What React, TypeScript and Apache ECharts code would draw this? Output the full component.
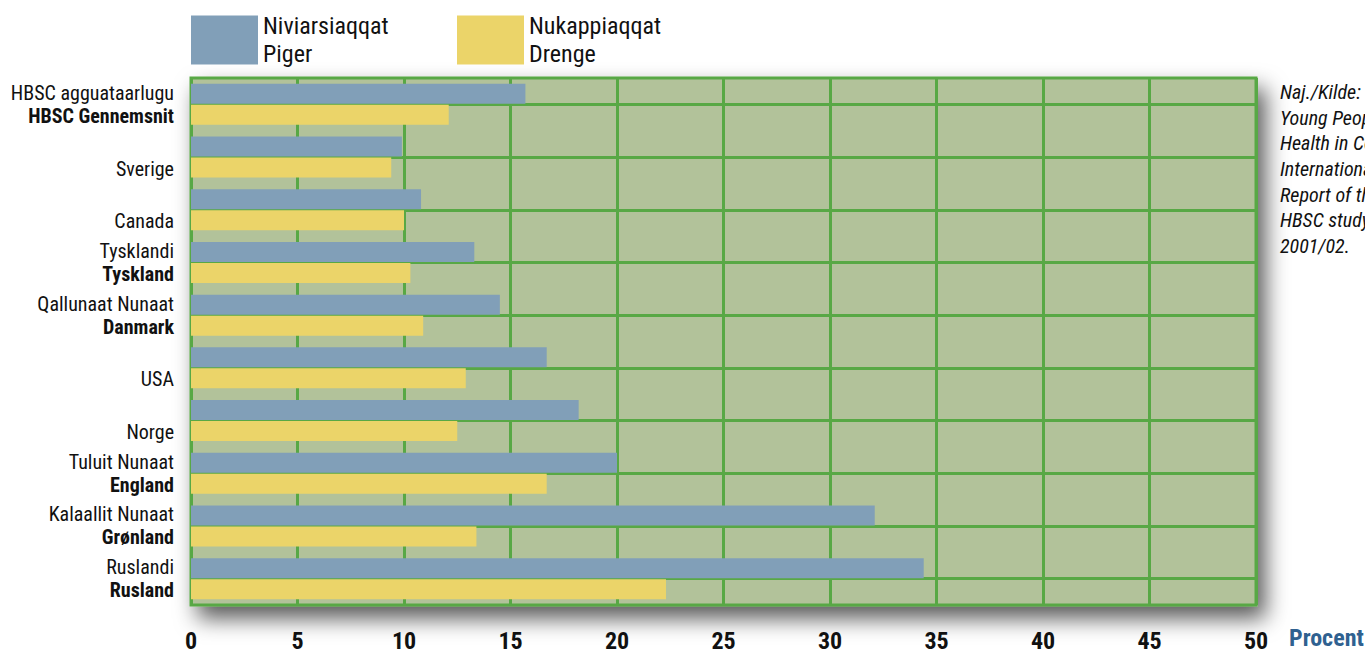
import React, { useEffect, useRef } from "react";
import * as echarts from "echarts";

const categoriesKl = ["HBSC agguataarlugu", "", "", "Tysklandi", "Qallunaat Nunaat", "", "", "Tuluit Nunaat", "Kalaallit Nunaat", "Ruslandi"];
const categoriesDa = ["HBSC Gennemsnit", "Sverige", "Canada", "Tyskland", "Danmark", "USA", "Norge", "England", "Grønland", "Rusland"];
const girls = [15.7, 9.9, 10.8, 13.3, 14.5, 16.7, 18.2, 20.0, 32.1, 34.4];
const boys = [12.1, 9.4, 10.0, 10.3, 10.9, 12.9, 12.5, 16.7, 13.4, 22.3];
const seriesNames = ["Niviarsiaqqat\nPiger", "Nukappiaqqat\nDrenge"];
const sourceLines = ["Naj./Kilde:", "Young People's", "Health in Context", "International", "Report of the", "HBSC study", "2001/02."];
const unitLabel = "Procent";
// 21 slots across the category span so that lines fall on band centres
const halfBandSlots = ["0", "1", "2", "3", "4", "5", "6", "7", "8", "9", "10", "11", "12", "13", "14", "15", "16", "17", "18", "19", "20"];

const FONT = "'Liberation Sans Narrow', 'Roboto Condensed', 'DejaVu Sans Condensed', 'Liberation Sans', sans-serif";
const BLUE = "#819fb8";
const YELLOW = "#ebd469";
const GREEN = "#58a845";

export default function App() {
  const ref = useRef<HTMLDivElement>(null);
  useEffect(() => {
    document.body.style.margin = "0";
    const chart = echarts.init(ref.current!, null, { renderer: "svg" });
    const legendBase = {
      top: 12,
      padding: 0,
      icon: "rect",
      itemWidth: 67,
      itemHeight: 49,
      textStyle: { fontFamily: FONT, fontSize: 24, lineHeight: 28, color: "#111" },
      selectedMode: false,
    };
    chart.setOption({
      animation: false,
      backgroundColor: "#ffffff",
      legend: [
        { ...legendBase, data: [seriesNames[0]], left: 191 },
        { ...legendBase, data: [seriesNames[1]], left: 457 },
      ],
      grid: {
        show: true,
        left: 191,
        right: 109,
        top: 78,
        bottom: 50,
        backgroundColor: "#b2c29a",
        borderColor: GREEN,
        borderWidth: 3,
        shadowColor: "rgba(0,0,0,0.65)",
        shadowBlur: 22,
        shadowOffsetX: 8,
        shadowOffsetY: 12,
      },
      xAxis: {
        type: "value",
        min: 0,
        max: 50,
        interval: 5,
        axisLine: { show: false },
        axisTick: { show: false },
        axisLabel: { fontFamily: FONT, fontSize: 24, fontWeight: "bold", color: "#111", margin: 24 },
        splitLine: { show: true, lineStyle: { color: GREEN, width: 3 } },
      },
      yAxis: [
        {
          type: "category",
          inverse: true,
          data: categoriesDa,
          axisLine: { show: false },
          axisTick: { show: false },
          splitLine: { show: false },
          axisLabel: {
            margin: 17,
            align: "right",
            formatter: (value: string, index: number) => {
              const kl = categoriesKl[index];
              if (kl) return `{n|${kl}}\n{b|${value}}`;
              return `{n| }\n{n|${value}}`;
            },
            rich: {
              n: { fontFamily: FONT, fontSize: 20, lineHeight: 23, color: "#111", align: "right" },
              b: { fontFamily: FONT, fontSize: 20, lineHeight: 23, color: "#111", fontWeight: "bold", align: "right" },
            },
          },
        },
        {
          type: "category",
          boundaryGap: false,
          data: halfBandSlots,
          position: "left",
          axisLine: { show: false },
          axisTick: { show: false },
          axisLabel: { show: false },
          splitLine: {
            show: true,
            interval: (index: number) => index % 2 === 1,
            lineStyle: { color: GREEN, width: 3 },
          },
        },
      ],
      series: [
        {
          name: seriesNames[0],
          type: "bar",
          yAxisIndex: 0,
          data: girls,
          barWidth: 20,
          barGap: "5%",
          itemStyle: { color: BLUE },
          z: 3,
        },
        {
          name: seriesNames[1],
          type: "bar",
          yAxisIndex: 0,
          data: boys,
          barWidth: 20,
          barGap: "5%",
          itemStyle: { color: YELLOW },
          z: 3,
        },
      ],
      graphic: [
        {
          type: "text",
          left: 1289,
          top: 626,
          style: { text: unitLabel, fontFamily: FONT, fontSize: 24, fontWeight: "bold", fill: "#2f6190" },
        },
        {
          type: "text",
          left: 1280,
          top: 79,
          style: {
            text: sourceLines.join("\n"),
            fontFamily: FONT,
            fontSize: 20,
            fontStyle: "italic",
            lineHeight: 25.7,
            fill: "#111",
          },
        },
      ],
    });
    return () => chart.dispose();
  }, []);
  return <div ref={ref} style={{ width: 1365, height: 655 }} />;
}
